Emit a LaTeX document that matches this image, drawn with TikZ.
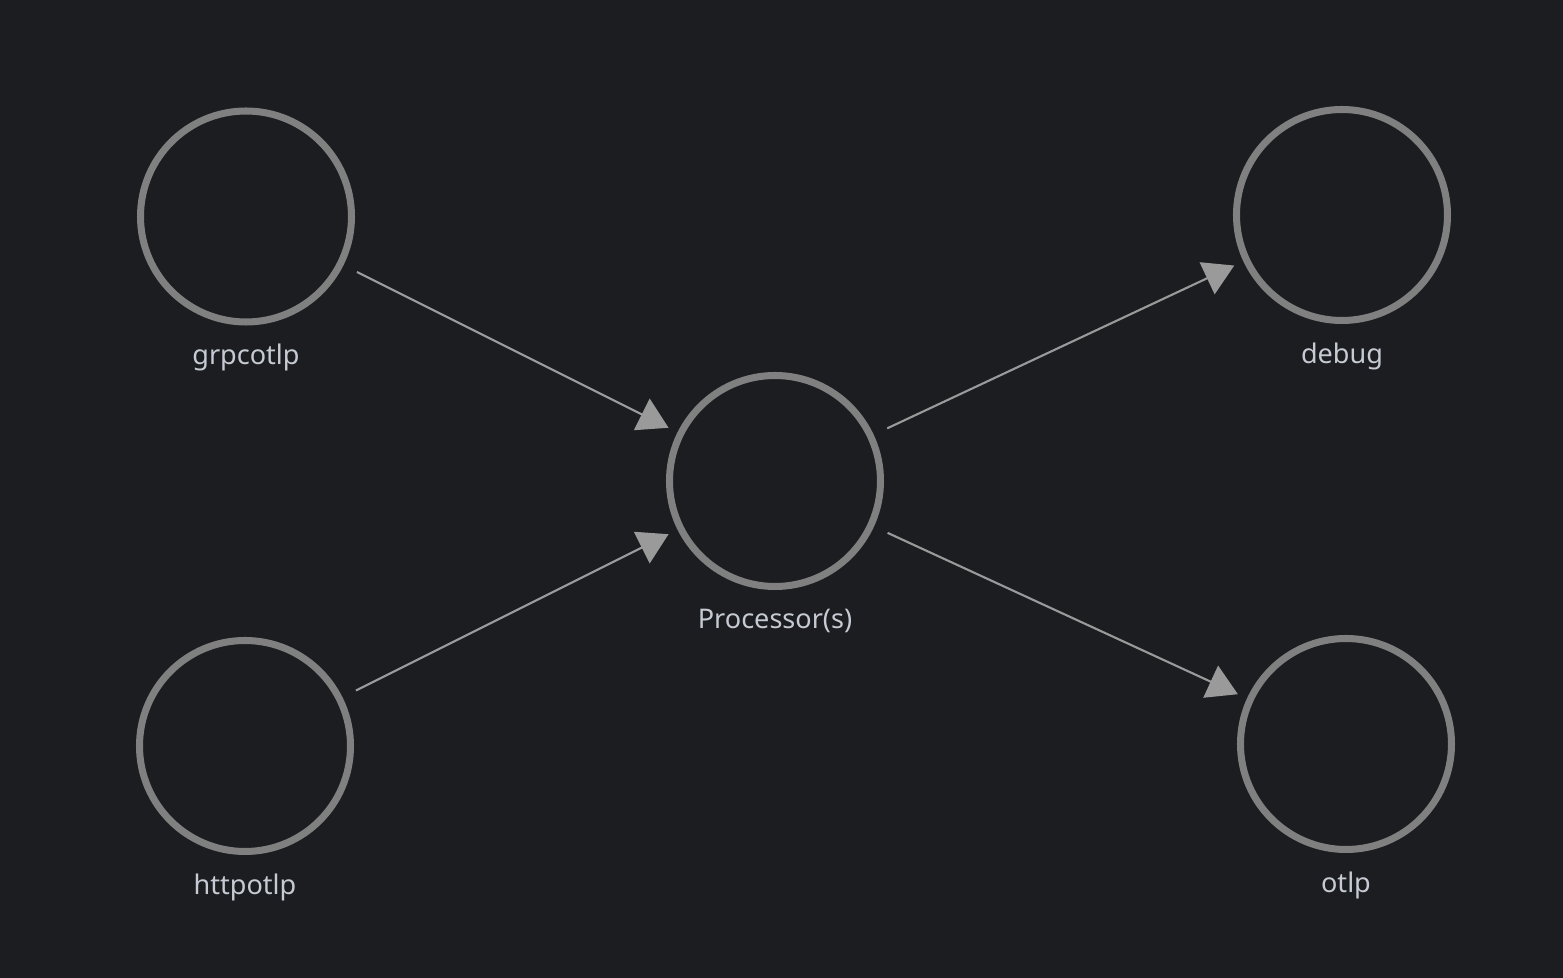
\documentclass[tikz,border=0pt]{standalone}
\usepackage{fontspec}
\setmainfont{Noto Sans}
\usepackage{tikz}
\usetikzlibrary{arrows.meta,positioning}
\definecolor{PipeBg}{HTML}{1B1D21}
\definecolor{PipeRing}{HTML}{808080}
\definecolor{PipeEdge}{HTML}{9A9A9A}
\definecolor{PipeText}{HTML}{C6CAD2}
\tikzset{
  pipenode/.style={draw=PipeRing, line width=2pt, circle, minimum size=21.1mm, inner sep=0pt},
  pipelabel/.style={text=PipeText, inner sep=0pt, font=\fontsize{7.7pt}{9pt}\selectfont},
  pipearrow/.style={-{Triangle[length=3mm,width=3.5mm]}, line width=0.6pt, draw=PipeEdge, fill=PipeEdge, shorten <=1.5mm, shorten >=1mm}
}

\begin{document}
\begin{tikzpicture}
  \fill[PipeBg] (0,0) rectangle (15.63,9.78);
  % receivers, processors, exporters
  \node[pipenode] (grpc) at (2.46,7.615) {};
  \node[pipenode] (http) at (2.45,2.32) {};
  \node[pipenode] (proc) at (7.75,4.97) {};
  \node[pipenode] (debug) at (13.42,7.63) {};
  \node[pipenode] (otlp) at (13.46,2.34) {};
  \node[pipelabel, below=1.8mm of grpc] (grpclbl) {grpcotlp};
  \node[pipelabel, below=1.8mm of http] (httplbl) {httpotlp};
  \node[pipelabel, below=1.8mm of proc] (proclbl) {Processor(s)};
  \node[pipelabel, below=1.8mm of debug] (debuglbl) {debug};
  \node[pipelabel, below=1.8mm of otlp] (otlplbl) {otlp};
  \draw[pipearrow] (grpc) -- (proc);
  \draw[pipearrow] (http) -- (proc);
  \draw[pipearrow] (proc) -- (debug);
  \draw[pipearrow] (proc) -- (otlp);
\end{tikzpicture}
\end{document}
